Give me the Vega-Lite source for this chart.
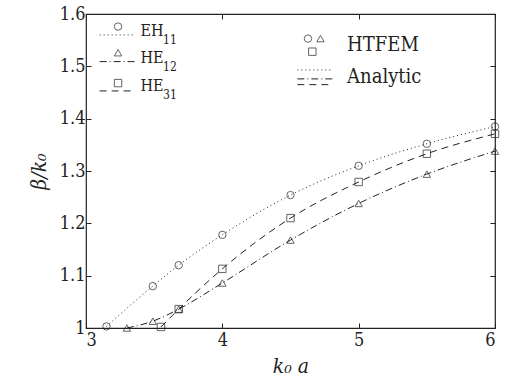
{
  "$schema": "https://vega.github.io/schema/vega-lite/v6.json",
  "autosize": "none",
  "width": 409,
  "height": 314,
  "padding": {"left": 86, "top": 14, "right": 11, "bottom": 59},
  "background": "white",
  "config": {
    "view": {"stroke": "#222", "strokeWidth": 1.2},
    "font": "DejaVu Serif Condensed",
    "text": {"font": "DejaVu Serif Condensed"},
    "axis": {"grid": false, "domain": false, "tickColor": "#222", "labelColor": "#222", "titleColor": "#222", "labelFont": "DejaVu Serif Condensed", "titleFont": "DejaVu Serif Condensed"}
  },
  "datasets": {
    "pts": [
      {"s": "EH11", "x": 3.15, "y": 1.003},
      {"s": "EH11", "x": 3.49, "y": 1.08},
      {"s": "EH11", "x": 3.68, "y": 1.12},
      {"s": "EH11", "x": 4.0, "y": 1.178},
      {"s": "EH11", "x": 4.5, "y": 1.254},
      {"s": "EH11", "x": 5.0, "y": 1.31},
      {"s": "EH11", "x": 5.5, "y": 1.352},
      {"s": "EH11", "x": 6.0, "y": 1.385},
      {"s": "HE12", "x": 3.3, "y": 1.0},
      {"s": "HE12", "x": 3.49, "y": 1.013},
      {"s": "HE12", "x": 3.68, "y": 1.036},
      {"s": "HE12", "x": 4.0, "y": 1.086},
      {"s": "HE12", "x": 4.5, "y": 1.168},
      {"s": "HE12", "x": 5.0, "y": 1.238},
      {"s": "HE12", "x": 5.5, "y": 1.294},
      {"s": "HE12", "x": 6.0, "y": 1.338},
      {"s": "HE31", "x": 3.55, "y": 1.002},
      {"s": "HE31", "x": 3.68, "y": 1.036},
      {"s": "HE31", "x": 4.0, "y": 1.113},
      {"s": "HE31", "x": 4.5, "y": 1.21},
      {"s": "HE31", "x": 5.0, "y": 1.279},
      {"s": "HE31", "x": 5.5, "y": 1.333},
      {"s": "HE31", "x": 6.0, "y": 1.371}
    ],
    "legLines": [
      {"s": "EH11", "x": 3.10, "y": 1.560},
      {"s": "EH11", "x": 3.36, "y": 1.560},
      {"s": "HE12", "x": 3.10, "y": 1.509},
      {"s": "HE12", "x": 3.36, "y": 1.509},
      {"s": "HE31", "x": 3.10, "y": 1.453},
      {"s": "HE31", "x": 3.36, "y": 1.453},
      {"s": "EH11b", "x": 4.55, "y": 1.493},
      {"s": "EH11b", "x": 4.81, "y": 1.493},
      {"s": "HE12b", "x": 4.55, "y": 1.476},
      {"s": "HE12b", "x": 4.81, "y": 1.476},
      {"s": "HE31b", "x": 4.55, "y": 1.465},
      {"s": "HE31b", "x": 4.81, "y": 1.465}
    ],
    "legSyms": [
      {"s": "EH11", "x": 3.235, "y": 1.576},
      {"s": "HE12", "x": 3.235, "y": 1.526},
      {"s": "HE31", "x": 3.235, "y": 1.468},
      {"s": "EH11", "x": 4.628, "y": 1.553},
      {"s": "HE12", "x": 4.72, "y": 1.553},
      {"s": "HE31", "x": 4.66, "y": 1.528}
    ],
    "legText": [
      {"t": "EH", "x": 3.40, "y": 1.568, "size": 16},
      {"t": "11", "x": 3.565, "y": 1.551, "size": 12},
      {"t": "HE", "x": 3.40, "y": 1.516, "size": 16},
      {"t": "12", "x": 3.565, "y": 1.499, "size": 12},
      {"t": "HE", "x": 3.40, "y": 1.463, "size": 16},
      {"t": "31", "x": 3.565, "y": 1.446, "size": 12},
      {"t": "HTFEM", "x": 4.915, "y": 1.541, "size": 20},
      {"t": "Analytic", "x": 4.915, "y": 1.480, "size": 20}
    ]
  },
  "layer": [
    {
      "data": {"name": "pts"},
      "mark": {"type": "point", "filled": false, "size": 55, "strokeWidth": 1, "color": "#222"},
      "encoding": {
        "x": {"field": "x", "type": "quantitative", "scale": {"domain": [3, 6], "nice": false, "zero": false},
          "axis": {"orient": "bottom", "values": [3, 4, 5, 6], "tickSize": -5, "labelFontSize": 18, "labelPadding": 8, "title": "k₀ a", "titleFontSize": 21, "titleFontStyle": "italic", "titleFontWeight": "normal", "titlePadding": 6}},
        "y": {"field": "y", "type": "quantitative", "scale": {"domain": [1, 1.6], "nice": false, "zero": false},
          "axis": {"orient": "left", "values": [1, 1.1, 1.2, 1.3, 1.4, 1.5, 1.6], "tickSize": -5, "labelFontSize": 18, "labelPadding": 6, "labelExpr": "datum.value == 1 ? '1' : format(datum.value, '.1f')", "title": "β/k₀", "titleFontSize": 21, "titleFontStyle": "italic", "titleFontWeight": "normal", "titlePadding": 10}},
        "shape": {"field": "s", "type": "nominal", "scale": {"domain": ["EH11", "HE12", "HE31"], "range": ["circle", "triangle-up", "square"]}, "legend": null}
      }
    },
    {
      "data": {"name": "pts"},
      "mark": {"type": "line", "color": "#222", "strokeWidth": 1, "interpolate": "monotone"},
      "encoding": {
        "x": {"field": "x", "type": "quantitative", "axis": {"orient": "top", "values": [3, 4, 5, 6], "tickSize": -5, "labels": false, "title": null}},
        "y": {"field": "y", "type": "quantitative", "axis": {"orient": "right", "values": [1, 1.1, 1.2, 1.3, 1.4, 1.5, 1.6], "tickSize": -5, "labels": false, "title": null}},
        "strokeDash": {"field": "s", "type": "nominal", "scale": {"domain": ["EH11", "HE12", "HE31"], "range": [[1, 3], [7, 3, 1, 3], [7, 5]]}, "legend": null}
      }
    },
    {
      "data": {"name": "legLines"},
      "mark": {"type": "line", "color": "#222", "strokeWidth": 1},
      "encoding": {
        "x": {"field": "x", "type": "quantitative", "axis": null},
        "y": {"field": "y", "type": "quantitative", "axis": null},
        "detail": {"field": "s"},
        "strokeDash": {"field": "s", "type": "nominal", "scale": {"domain": ["EH11", "HE12", "HE31", "EH11b", "HE12b", "HE31b"], "range": [[1, 3], [7, 3, 1, 3], [7, 5], [1, 3], [7, 3, 1, 3], [7, 5]]}, "legend": null}
      }
    },
    {
      "data": {"name": "legSyms"},
      "mark": {"type": "point", "filled": false, "size": 55, "strokeWidth": 1, "color": "#222"},
      "encoding": {
        "x": {"field": "x", "type": "quantitative", "axis": null},
        "y": {"field": "y", "type": "quantitative", "axis": null},
        "shape": {"field": "s", "type": "nominal", "legend": null}
      }
    },
    {
      "data": {"name": "legText"},
      "mark": {"type": "text", "align": "left", "baseline": "middle", "color": "#222"},
      "encoding": {
        "x": {"field": "x", "type": "quantitative", "axis": null},
        "y": {"field": "y", "type": "quantitative", "axis": null},
        "text": {"field": "t"},
        "size": {"field": "size", "type": "quantitative", "scale": null}
      }
    }
  ],
  "resolve": {"axis": {"x": "independent", "y": "independent"}, "scale": {"strokeDash": "independent"}}
}
